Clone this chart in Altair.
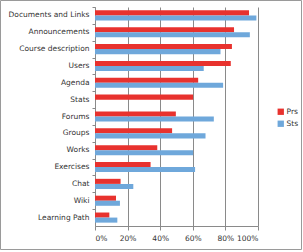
import altair as alt
import pandas as pd

categories = ["Documents and Links", "Announcements", "Course description", "Users",
              "Agenda", "Stats", "Forums", "Groups", "Works", "Exercises",
              "Chat", "Wiki", "Learning Path"]
prs = [0.945, 0.853, 0.84, 0.833, 0.633, 0.602, 0.496, 0.473, 0.382, 0.341, 0.157, 0.129, 0.088]
sts = [0.99, 0.95, 0.77, 0.667, 0.786, 0.0, 0.729, 0.678, 0.602, 0.614, 0.235, 0.153, 0.137]
series = ["Prs", "Sts"]
colors = ["#e8322e", "#6fa8db"]
x_ticks = [0, 0.2, 0.4, 0.6, 0.8, 1.0]

rows = []
for c, p, s in zip(categories, prs, sts):
    rows.append({"cat": c, "series": "Prs", "value": p})
    rows.append({"cat": c, "series": "Sts", "value": s})
df = pd.DataFrame(rows)

FONT = "DejaVu Sans"
yscale = alt.Scale(paddingInner=0.4, paddingOuter=0.2)
xaxis = alt.Axis(format="%", values=x_ticks, grid=True, gridColor="#8a8a8a",
                 gridWidth=1, domainColor="#8a8a8a", tickColor="#8a8a8a",
                 tickSize=4, labelFont=FONT, labelFontSize=7.5,
                 labelColor="#333333", labelPadding=4)

bars = alt.Chart(df).mark_bar().encode(
    x=alt.X("value:Q", title=None, scale=alt.Scale(domain=[0, 1]), axis=xaxis),
    y=alt.Y("cat:N", sort=categories, title=None, scale=yscale,
            axis=alt.Axis(orient="left", ticks=False, domainColor="#8a8a8a",
                          labelFont=FONT, labelFontSize=7.5, labelColor="#333333",
                          labelPadding=6, grid=False)),
    yOffset=alt.YOffset("series:N", sort=series, scale=alt.Scale(paddingInner=0)),
    color=alt.Color("series:N", sort=series,
                    scale=alt.Scale(domain=series, range=colors),
                    legend=alt.Legend(title=None, orient="none", legendX=182, legendY=101,
                                      symbolType="square", symbolSize=40,
                                      symbolStrokeWidth=0, labelFont=FONT,
                                      labelFontSize=7.5, labelColor="#333333",
                                      rowPadding=3, labelOffset=2)),
)

ticks_layer = alt.Chart(df).mark_bar(opacity=0).encode(
    x=alt.X("value:Q", title=None, scale=alt.Scale(domain=[0, 1]), axis=xaxis),
    y=alt.Y("cat:N", sort=categories, title=None, scale=yscale,
            axis=alt.Axis(orient="left", labels=False, domain=False, ticks=True,
                          tickColor="#8a8a8a", tickSize=3, bandPosition=0,
                          tickOffset=-3.4, grid=False)),
)

frame = alt.Chart(pd.DataFrame({"k": [0]})).mark_rect(
    fill=None, stroke="#9a9a9a", strokeWidth=1, clip=False
).encode(
    x=alt.value(-94.5), x2=alt.value(206.5), y=alt.value(-6.5), y2=alt.value(242.5)
)

chart = alt.layer(frame, bars, ticks_layer).resolve_axis(y="independent").properties(
    width=163, height=219,
    autosize=alt.AutoSizeParams(type="none"),
    padding={"left": 95, "top": 7, "right": 45, "bottom": 26},
    background="white",
).configure_view(stroke=None)

chart.save("out.html", embed_options={"renderer": "svg", "actions": False})
